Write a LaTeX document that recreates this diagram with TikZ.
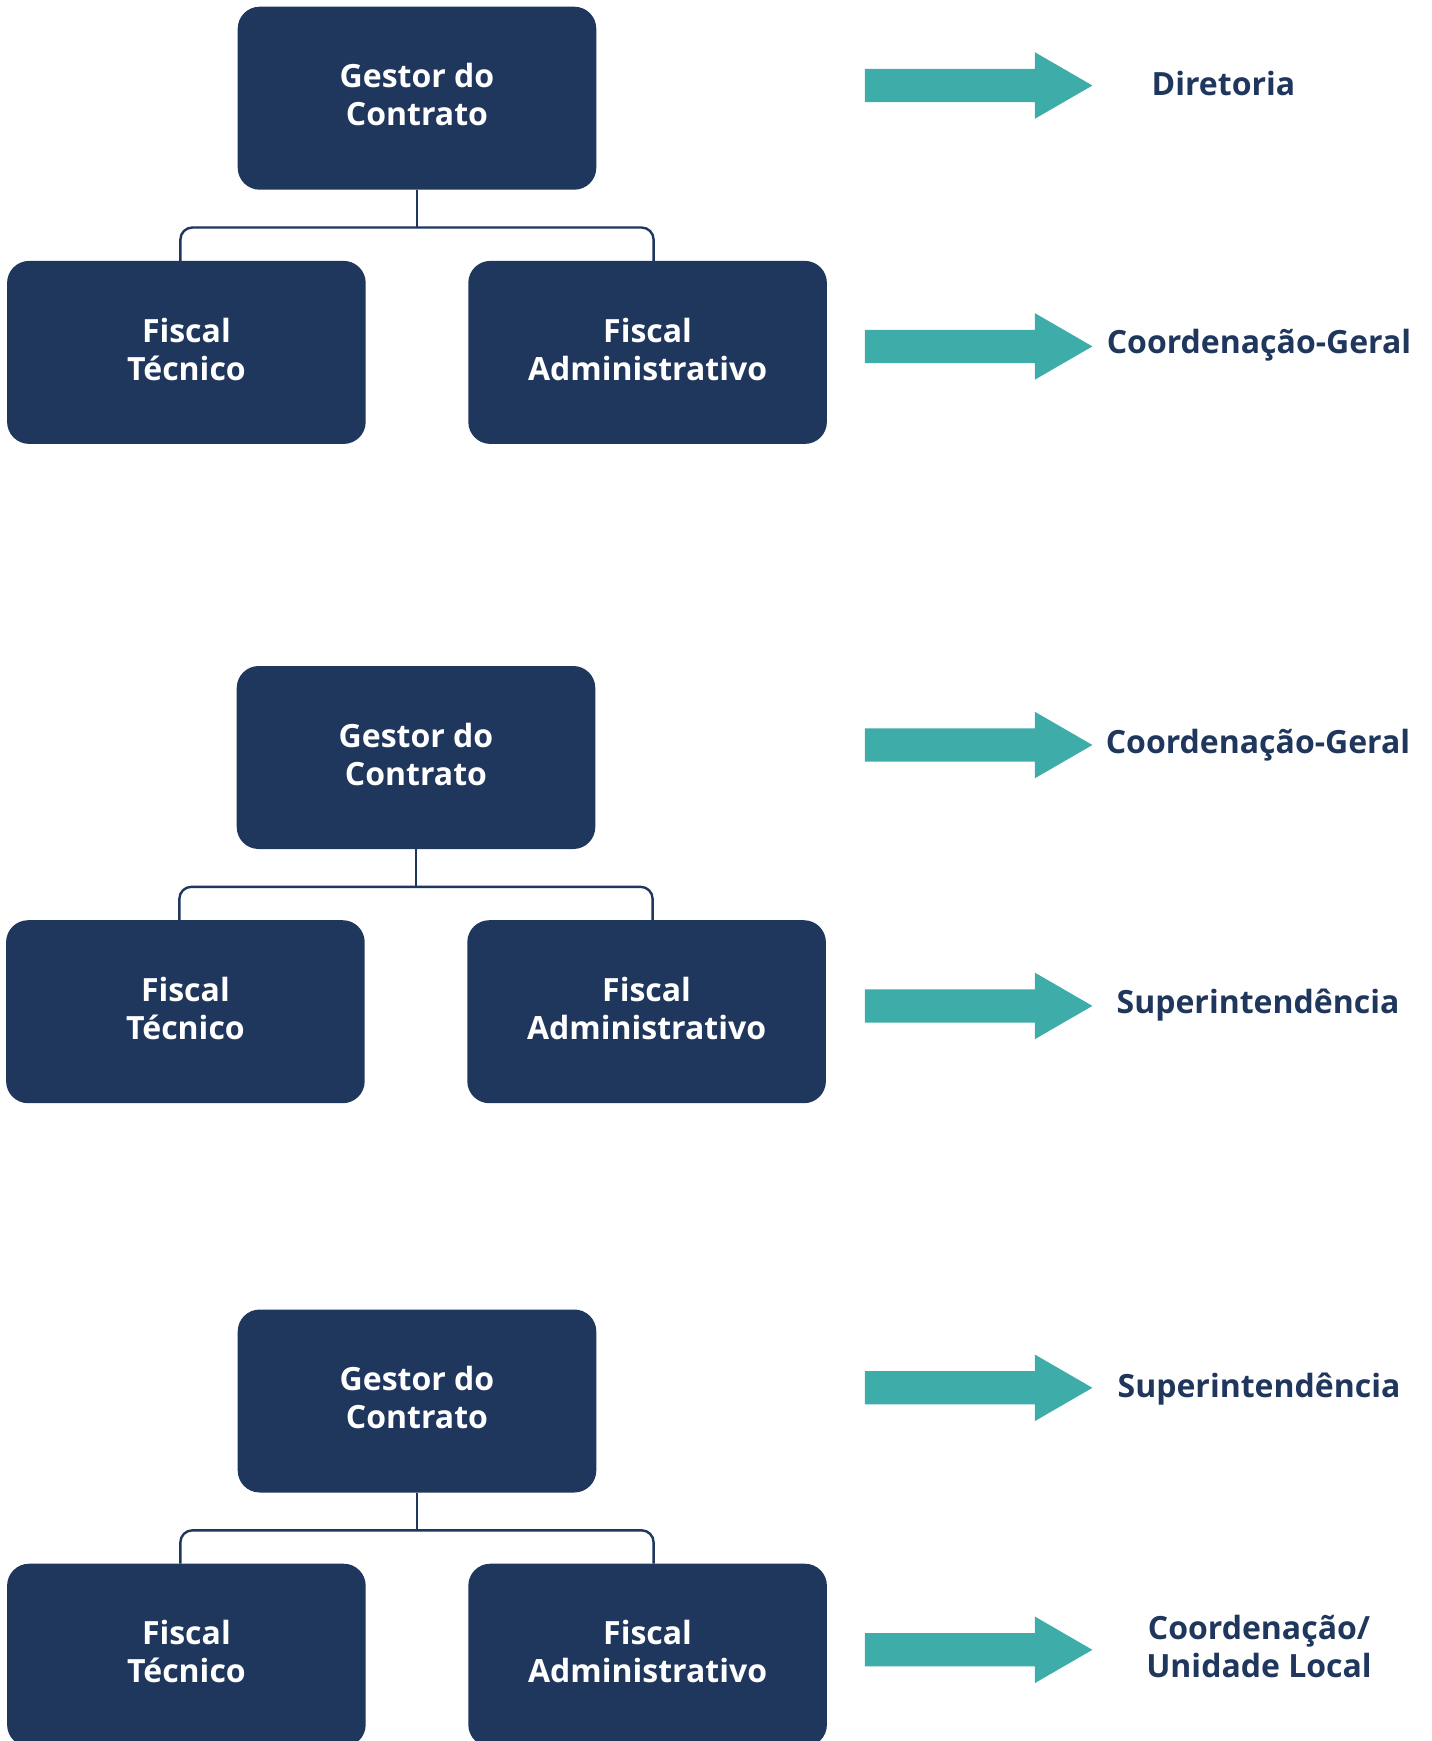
\documentclass[tikz,border=0pt]{standalone}
\usepackage{fontspec}
\setmainfont{Open Sans}
\usepackage{tikz}
\usetikzlibrary{positioning}

\definecolor{navy}{RGB}{31,54,93}
\definecolor{tealarrow}{RGB}{62,172,168}

\newcommand{\hshim}{115.3pt}
\newcommand{\vshim}{127.1pt}
\newcommand{\dropl}{18.9pt}
\newcommand{\legshim}{3pt}
\newcommand{\bigarrow}[1]{\fill[tealarrow] (#1) ++(0,8.3pt) -- ++(85pt,0) -- ++(0,8.35pt)
  -- ++(28.8pt,-16.65pt) -- ++(-28.8pt,-16.65pt) -- ++(0,8.35pt) -- ++(-85pt,0) -- cycle;}

\tikzset{
  boxnode/.style={rounded corners=11pt, fill=navy, text=white, align=center,
    minimum width=179.3pt, minimum height=91.5pt, inner sep=0pt, outer sep=0pt,
    font=\fontsize{16}{19}\selectfont\bfseries,
    execute at end node={\rule[-3.4pt]{0pt}{0pt}}},
  levelnode/.style={text=navy, align=center, inner sep=0pt,
    font=\fontsize{16}{19}\selectfont\bfseries},
  link/.style={draw=navy, line width=1.2pt}
}

\begin{document}
\begin{tikzpicture}[node distance=\vshim]
  \useasboundingbox (0,0) rectangle (715.5pt,-870.5pt);

  %% first chart
  \node (g1) [boxnode] at (208.5pt,-49.1pt) {Gestor do\\Contrato};
  \node (ft1) [boxnode, below of=g1
              ,xshift=-\hshim] {Fiscal\\Técnico};
  \node (fa1) [boxnode, below of=g1
              ,xshift=\hshim]  {Fiscal\\Administrativo};

  %% second chart
  \node (g2) [boxnode] at (208pt,-378.75pt) {Gestor do\\Contrato};
  \node (ft2) [boxnode, below of=g2
              ,xshift=-\hshim] {Fiscal\\Técnico};
  \node (fa2) [boxnode, below of=g2
              ,xshift=\hshim]  {Fiscal\\Administrativo};

  %% third chart
  \node (g3) [boxnode] at (208.5pt,-700.5pt) {Gestor do\\Contrato};
  \node (ft3) [boxnode, below of=g3
              ,xshift=-\hshim] {Fiscal\\Técnico};
  \node (fa3) [boxnode, below of=g3
              ,xshift=\hshim]  {Fiscal\\Administrativo};

  %% tree lines
  \draw[link] (g1.south) -- ++(0,-\dropl) coordinate (j1);
  \draw[link, rounded corners=6pt] (j1) -| ([xshift=-\legshim]ft1.north);
  \draw[link, rounded corners=6pt] (j1) -| ([xshift=\legshim]fa1.north);
  \draw[link] (g2.south) -- ++(0,-\dropl) coordinate (j2);
  \draw[link, rounded corners=6pt] (j2) -| ([xshift=-\legshim]ft2.north);
  \draw[link, rounded corners=6pt] (j2) -| ([xshift=\legshim]fa2.north);
  \draw[link] (g3.south) -- ++(0,-\dropl) coordinate (j3);
  \draw[link, rounded corners=6pt] (j3) -| ([xshift=-\legshim]ft3.north);
  \draw[link, rounded corners=6pt] (j3) -| ([xshift=\legshim]fa3.north);

  %% arrows to the levels
  \coordinate (a1) at (432.4pt,-42.75pt);
  \coordinate (a2) at (432.4pt,-173.2pt);
  \coordinate (a3) at (432.4pt,-372.5pt);
  \coordinate (a4) at (432.4pt,-502.95pt);
  \coordinate (a5) at (432.4pt,-693.9pt);
  \coordinate (a6) at (432.4pt,-824.9pt);
  \bigarrow{a1}
  \bigarrow{a2}
  \bigarrow{a3}
  \bigarrow{a4}
  \bigarrow{a5}
  \bigarrow{a6}

  \node (l1) [levelnode] at (611.7pt,-41.65pt)  {Diretoria};
  \node (l2) [levelnode] at (629.5pt,-172.7pt)  {Coordenação-Geral};
  \node (l3) [levelnode] at (629pt,-372.5pt)    {Coordenação-Geral};
  \node (l4) [levelnode] at (629pt,-502.7pt)    {Superintendência};
  \node (l5) [levelnode] at (629.5pt,-694.75pt) {Superintendência};
  \node (l6) [levelnode] at (629.5pt,-823pt)    {Coordenação/\\Unidade Local};

\end{tikzpicture}
\end{document}
